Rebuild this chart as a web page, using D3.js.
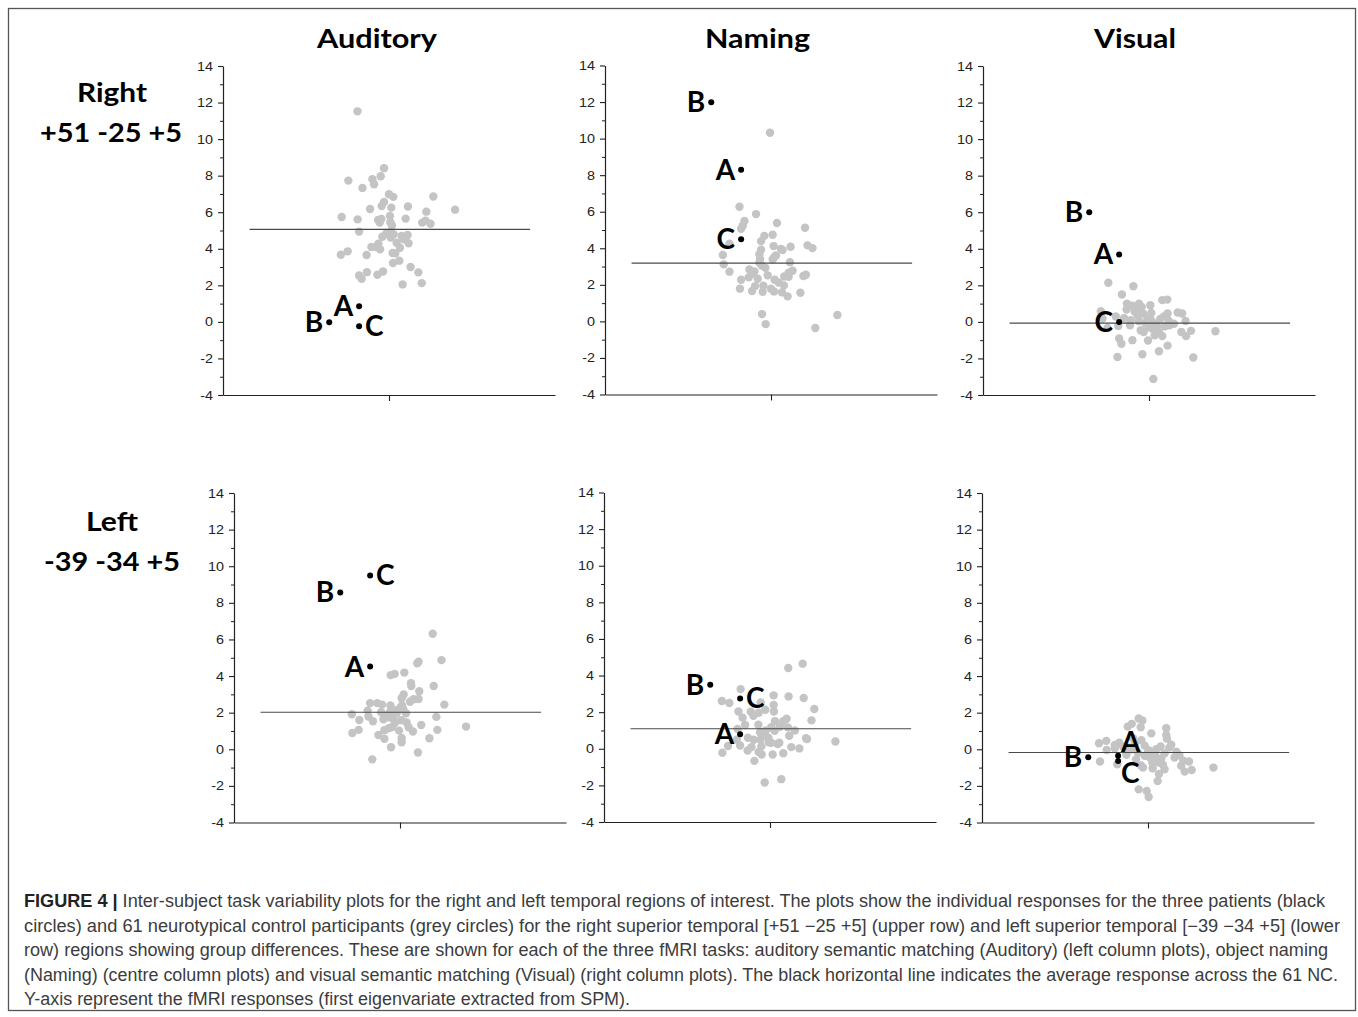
<!DOCTYPE html>
<html>
<head>
<meta charset="utf-8">
<script src="https://cdn.jsdelivr.net/npm/d3@7/dist/d3.min.js"></script>
<style>
  html, body { margin: 0; padding: 0; background: #fff; }
  svg { display: block; }
</style>
</head>
<body>
<svg id="chart" width="1358" height="1017"></svg>
<script>
// ---------------- DATA ----------------
const tasks = ["Auditory", "Naming", "Visual"];
const regionNames = ["Right", "Left"];
const regionCoords = ["+51 -25 +5", "-39 -34 +5"];
const yTicks = [-4, -2, 0, 2, 4, 6, 8, 10, 12, 14];
const yMinorTicks = [-3, -1, 1, 3, 5, 7, 9, 11, 13];
const patientNames = ["A", "B", "C"];
const patientJitter = [-0.18, -0.36, -0.18];   // horizontal jitter of A, B, C

// Neurotypical controls: [jitter, response]
const rightAuditoryNC = [[-0.19,11.52],[-0.03,8.41],[-0.245,7.73],[-0.10,7.81],[-0.05,7.97],[-0.09,7.53],[-0.16,7.33],[0,6.98],[0.026,6.84],[0.267,6.86],[-0.03,6.56],[-0.044,6.34],[0.014,6.25],[0.114,6.31],[-0.114,6.18],[0.225,6.03],[0.398,6.14],[-0.285,5.74],[-0.189,5.61],[-0.066,5.58],[-0.046,5.63],[-0.056,5.43],[0.006,5.80],[0.008,5.45],[0.018,5.28],[0.10,5.65],[0.20,5.43],[0.22,5.54],[0.25,5.37],[-0.18,4.94],[0.01,4.95],[-0.04,4.66],[0.01,4.62],[0.076,4.70],[0.112,4.75],[0.09,4.52],[0.046,4.33],[0.118,4.30],[-0.064,4.28],[-0.078,4.10],[-0.106,4.10],[0.066,4.06],[-0.054,3.97],[-0.249,3.86],[-0.29,3.67],[-0.135,3.66],[0.022,3.77],[0.038,3.75],[0.062,3.35],[0.024,3.22],[0.13,3.00],[-0.133,2.72],[-0.036,2.76],[-0.18,2.54],[-0.165,2.36],[-0.07,2.58],[0.177,2.71],[0.082,2.05],[0.197,2.12],[-0.016,4.84],[0.028,4.79]];
const rightNamingNC = [[-0.006,10.32],[-0.19,6.27],[-0.09,5.87],[-0.16,5.49],[-0.17,5.25],[-0.18,5.07],[0.036,5.38],[0.205,5.12],[-0.04,4.68],[0.01,4.74],[-0.06,4.39],[-0.06,3.92],[-0.07,3.68],[0.016,4.12],[0.06,3.97],[0.07,3.90],[0.118,4.08],[0.22,4.16],[0.25,4.01],[-0.29,3.63],[-0.285,3.12],[-0.25,2.72],[-0.066,3.41],[-0.07,3.21],[0.018,3.50],[0.03,3.61],[0.01,3.39],[-0.034,2.93],[-0.056,3.06],[-0.13,2.84],[-0.10,2.73],[-0.114,2.61],[-0.134,2.41],[-0.18,2.28],[0.114,3.24],[0.13,2.77],[0.106,2.66],[0.08,2.46],[0.106,2.44],[0.022,2.28],[0.046,2.13],[0.078,1.97],[0.21,2.55],[0.195,2.48],[-0.096,1.93],[-0.046,1.95],[-0.187,1.79],[-0.114,1.66],[-0.05,1.62],[0,1.79],[0.018,1.64],[0.066,1.59],[0.10,1.37],[0.177,1.57],[-0.054,0.40],[-0.032,-0.15],[0.267,-0.36],[0.40,0.35],[-0.25,4.25],[-0.08,2.33],[-0.02,2.52]];
const rightVisualNC = [[-0.245,2.14],[-0.094,1.95],[-0.163,1.50],[-0.133,1.00],[-0.10,0.88],[-0.06,1.00],[-0.044,0.82],[0.008,0.91],[0.08,1.19],[0.11,1.22],[-0.135,0.68],[-0.086,0.55],[-0.068,0.33],[-0.036,0.46],[0.014,0.49],[0.112,0.46],[0.173,0.51],[0.20,0.46],[-0.29,0.58],[-0.28,0.18],[-0.06,0.04],[-0.114,-0.18],[-0.185,-0.22],[-0.05,-0.46],[0.012,0.09],[0.068,0.16],[0.118,0.07],[0.122,-0.18],[0.096,-0.24],[0.22,0.05],[-0.25,-0.33],[-0.032,-0.55],[0.02,-0.36],[0.034,-0.73],[0.06,-0.55],[0.08,-0.77],[0.195,-0.55],[0.223,-0.78],[0.253,-0.49],[0.40,-0.51],[-0.18,-0.91],[-0.166,-1.20],[-0.10,-1.00],[-0.006,-1.02],[0.112,-1.30],[0.06,-1.61],[-0.04,-1.77],[-0.19,-1.92],[0.267,-1.95],[0.026,-3.12],[-0.11,0.09],[-0.02,-0.09],[0.05,-0.27],[-0.07,0.73],[-0.01,0.18],[0.04,-0.09],[-0.2,0.3],[0.15,-0.1],[0.0,-0.3],[-0.15,0.2],[0.09,0.3]];
const leftAuditoryNC = [[0.197,6.31],[0.25,4.87],[0.104,4.70],[0.112,4.78],[0.026,4.19],[-0.056,4.05],[-0.032,4.12],[0.066,3.61],[0.068,3.46],[0.203,3.46],[0.116,3.17],[0.022,2.99],[0.01,2.79],[0.082,2.73],[0.112,2.75],[0.267,2.44],[-0.18,2.52],[-0.137,2.52],[-0.108,2.44],[-0.058,2.39],[0.012,2.39],[0.02,2.19],[-0.195,2.11],[-0.114,2.02],[-0.06,2.04],[-0.04,2.15],[0.036,1.97],[-0.29,1.91],[-0.19,1.79],[-0.245,1.60],[-0.163,1.53],[-0.10,1.64],[-0.066,1.75],[-0.04,1.66],[0.008,1.59],[0.04,1.46],[0.219,1.77],[0.052,1.20],[0.128,1.33],[0.398,1.24],[-0.249,1.06],[-0.287,0.89],[-0.094,1.04],[-0.068,1.15],[-0.048,1.22],[-0.006,1.02],[0.078,0.97],[0.225,1.06],[-0.13,0.78],[-0.094,0.57],[0.01,0.62],[0.01,0.38],[0.177,0.60],[-0.054,0.11],[0.108,-0.18],[-0.167,-0.55],[-0.02,1.97],[-0.08,1.85],[0.0,2.25],[-0.03,1.45],[0.06,2.6]];
const leftNamingNC = [[0.197,4.65],[0.11,4.41],[-0.177,3.26],[-0.056,2.53],[0.022,2.92],[0.112,2.86],[0.203,2.77],[-0.29,2.61],[-0.245,2.50],[0.022,2.39],[0.267,2.17],[-0.19,2.04],[-0.116,2.02],[-0.068,1.97],[-0.028,2.13],[0.024,2.04],[-0.165,1.70],[0.10,1.64],[0.08,1.51],[0.25,1.55],[-0.07,1.31],[0.008,1.18],[0.108,1.17],[-0.195,1.08],[0.028,0.98],[-0.038,0.78],[0.116,0.71],[-0.133,0.60],[-0.098,0.49],[-0.058,0.49],[0.217,0.58],[0.223,0.53],[0.394,0.40],[-0.008,0.36],[0.008,0.33],[0.056,0.33],[0.046,0.26],[-0.253,0.15],[-0.18,0.18],[-0.112,0.09],[-0.052,0.13],[0.128,0.09],[0.177,0.02],[-0.287,-0.22],[-0.135,-0.09],[-0.068,-0.18],[-0.05,-0.31],[0.016,-0.31],[0.08,-0.24],[-0.094,-0.66],[-0.032,-1.84],[0.068,-1.66],[-0.2,0.5],[-0.025,1.0],[0.06,1.2],[-0.1,1.8],[-0.01,0.6],[0.15,1.0],[-0.15,1.3],[0.03,1.5],[-0.06,0.9]];
const leftVisualNC = [[-0.056,1.68],[-0.034,1.57],[-0.098,1.39],[-0.122,1.24],[-0.044,1.20],[0.11,1.15],[0.02,0.87],[0.11,0.78],[0.114,0.58],[-0.295,0.33],[-0.251,0.46],[-0.2,0.24],[-0.173,0.36],[-0.249,-0.04],[0.006,-0.07],[0.076,0.15],[0.128,0.09],[0.171,-0.13],[0.042,-0.26],[0.10,-0.22],[0.189,-0.33],[0.01,-0.44],[-0.072,-0.55],[-0.289,-0.67],[-0.185,-0.82],[-0.042,-0.89],[0.026,-0.73],[0.066,-0.73],[0.213,-0.62],[0.247,-0.67],[0.028,-1.04],[0.10,-1.09],[0.221,-1.22],[0.263,-1.13],[0.394,-1.00],[0.066,-1.35],[0.058,-1.73],[-0.056,-2.19],[-0.008,-2.28],[0.004,-2.61],[0.03,-0.40],[-0.02,-0.35],[-0.12,0.1],[-0.08,0.3],[-0.1,0.0],[-0.06,-0.2],[-0.15,0.15],[0.05,0.0],[-0.04,0.5],[-0.02,0.2],[0.08,-0.5],[0.16,-0.45],[-0.13,-0.3],[0.0,-0.15],[0.14,0.25],[-0.09,0.6],[0.04,-0.6],[-0.2,0.05],[0.09,-0.85],[-0.03,-1.0],[0.2,-0.9]];

// Patients A, B, C responses
const rightAuditoryPatients = [0.86, -0.02, -0.24];
const rightNamingPatients   = [8.30, 11.99, 4.50];
const rightVisualPatients   = [3.69, 6.00, 0.00];
const leftAuditoryPatients  = [4.52, 8.57, 9.50];
const leftNamingPatients    = [0.80, 3.50, 2.75];
const leftVisualPatients    = [-0.35, -0.44, -0.64];

// NC average response (horizontal line)
const ncMeans = [5.06, 3.19, -0.07, 2.02, 1.09, -0.18];

const captionLines = [
  ["FIGURE 4 | ", "Inter-subject task variability plots for the right and left temporal regions of interest. The plots show the individual responses for the three patients (black"],
  ["", "circles) and 61 neurotypical control participants (grey circles) for the right superior temporal [+51 \u221225 +5] (upper row) and left superior temporal [\u221239 \u221234 +5] (lower"],
  ["", "row) regions showing group differences. These are shown for each of the three fMRI tasks: auditory semantic matching (Auditory) (left column plots), object naming"],
  ["", "(Naming) (centre column plots) and visual semantic matching (Visual) (right column plots). The black horizontal line indicates the average response across the 61 NC."],
  ["", "Y-axis represent the fMRI responses (first eigenvariate extracted from SPM)."]
];

// ---------------- LAYOUT ----------------
const panels = [
  {nc: rightAuditoryNC, pts: rightAuditoryPatients, mean: ncMeans[0], x0: 223, top: 66,  bottom: 395,   place: ["left","left","right"]},
  {nc: rightNamingNC,   pts: rightNamingPatients,   mean: ncMeans[1], x0: 605, top: 65.5,bottom: 394.5, place: ["left","left","left"]},
  {nc: rightVisualNC,   pts: rightVisualPatients,   mean: ncMeans[2], x0: 983, top: 66,  bottom: 395,   place: ["left","left","left"]},
  {nc: leftAuditoryNC,  pts: leftAuditoryPatients,  mean: ncMeans[3], x0: 234, top: 493, bottom: 822.5, place: ["left","left","right"]},
  {nc: leftNamingNC,    pts: leftNamingPatients,    mean: ncMeans[4], x0: 604, top: 492.5,bottom: 822, place: ["left","left","right"]},
  {nc: leftVisualNC,    pts: leftVisualPatients,    mean: ncMeans[5], x0: 982, top: 493, bottom: 822.5, place: ["upright","left","downright"]}
];
const panelWidth = 332;
const meanExtent = [-0.84, 0.85];

const svg = d3.select("#chart");

// outer frame
svg.append("rect").attr("x", 8.5).attr("y", 8.5).attr("width", 1347).attr("height", 1002)
  .attr("fill", "none").attr("stroke", "#555").attr("stroke-width", 1.3);

const boldFont = "Lato, 'Open Sans', sans-serif";

function fitText(sel, width) {
  sel.attr("textLength", width).attr("lengthAdjust", "spacingAndGlyphs");
}

// column titles
const titleBoxes = [[317, 120], [705, 105], [1094, 82]];
tasks.forEach((t, i) => {
  svg.append("text").attr("x", titleBoxes[i][0]).attr("y", 48)
    .attr("font-family", boldFont).attr("font-weight", 700).attr("font-size", 27)
    .attr("fill", "#000").text(t).call(fitText, titleBoxes[i][1]);
});
// row labels
const rowBoxes = [[[77, 70, 102], [40, 142, 142]], [[86, 52, 531], [44, 136, 571]]];
regionNames.forEach((r, i) => {
  svg.append("text").attr("x", rowBoxes[i][0][0]).attr("y", rowBoxes[i][0][2])
    .attr("font-family", boldFont).attr("font-weight", 700).attr("font-size", 26)
    .text(r).call(fitText, rowBoxes[i][0][1]);
  svg.append("text").attr("x", rowBoxes[i][1][0]).attr("y", rowBoxes[i][1][2])
    .attr("font-family", boldFont).attr("font-weight", 700).attr("font-size", 26)
    .text(regionCoords[i]).call(fitText, rowBoxes[i][1][1]);
});

panels.forEach(p => {
  const g = svg.append("g");
  const x = d3.scaleLinear().domain([-1, 1]).range([p.x0, p.x0 + panelWidth]);
  const y = d3.scaleLinear().domain([-4, 14]).range([p.bottom, p.top]);

  // minor ticks
  const minor = g.append("g").attr("transform", `translate(${p.x0},0)`)
    .call(d3.axisLeft(y).tickValues(yMinorTicks).tickSize(3).tickFormat("").tickSizeOuter(0));
  minor.select(".domain").remove();
  minor.selectAll("line").attr("stroke", "#222");

  const ya = g.append("g").attr("transform", `translate(${p.x0},0)`)
    .call(d3.axisLeft(y).tickValues(yTicks).tickSize(5).tickPadding(5).tickSizeOuter(0)
      .tickFormat(d => String(d)));
  ya.select(".domain").attr("stroke", "#222").attr("stroke-width", 1.2);
  ya.selectAll("line").attr("stroke", "#222").attr("stroke-width", 1.1);
  ya.selectAll("text").attr("font-family", "'Liberation Sans', Arial, sans-serif")
    .attr("font-size", 12.5).attr("fill", "#222")
    .each(function () {
      const w = this.getComputedTextLength();
      d3.select(this).attr("textLength", w * 1.15).attr("lengthAdjust", "spacingAndGlyphs");
    });

  const xa = g.append("g").attr("transform", `translate(0,${p.bottom})`)
    .call(d3.axisBottom(x).tickValues([0]).tickSize(6).tickFormat("").tickSizeOuter(0));
  xa.select(".domain").attr("stroke", "#222").attr("stroke-width", 1.2);
  xa.selectAll("line").attr("stroke", "#222").attr("stroke-width", 1.1);

  // control points
  g.append("g").selectAll("circle").data(p.nc).join("circle")
    .attr("cx", d => x(d[0])).attr("cy", d => y(d[1])).attr("r", 4.2)
    .attr("fill", "#c4c4c4");

  // mean line
  g.append("line")
    .attr("x1", x(meanExtent[0])).attr("x2", x(meanExtent[1]))
    .attr("y1", y(p.mean)).attr("y2", y(p.mean))
    .attr("stroke", "#4a4a4a").attr("stroke-width", 1.1);

  // patients
  const pd = patientNames.map((n, i) => ({name: n, j: patientJitter[i], v: p.pts[i], place: p.place[i]}));
  g.append("g").selectAll("circle").data(pd).join("circle")
    .attr("cx", d => x(d.j)).attr("cy", d => y(d.v)).attr("r", 3).attr("fill", "#000");

  g.append("g").selectAll("text").data(pd).join("text")
    .attr("font-family", boldFont).attr("font-weight", 700).attr("font-size", 28).attr("fill", "#000")
    .attr("text-anchor", d => d.place === "left" ? "end" : "start")
    .attr("x", d => x(d.j) + (d.place === "left" ? -6 : d.place === "right" ? 6 : 3))
    .attr("y", d => y(d.v) + (d.place === "upright" ? -4 : d.place === "downright" ? 22 : 10))
    .text(d => d.name);
});

// caption
const capLengths = [1301, 1316, 1304, 1314, 606];
captionLines.forEach((ln, i) => {
  const t = svg.append("text").attr("x", 24).attr("y", 907 + i * 24.6)
    .attr("font-family", "'Liberation Sans Narrow', 'Liberation Sans', Arial, sans-serif")
    .attr("font-size", 17.5).attr("fill", "#3c3c3c");
  if (ln[0]) t.append("tspan").attr("font-weight", 700).attr("fill", "#222")
    .attr("font-family", "'Liberation Sans', Arial, sans-serif").text(ln[0]);
  t.append("tspan").text(ln[1]);
  t.call(fitText, capLengths[i]);
});
</script>
</body>
</html>
